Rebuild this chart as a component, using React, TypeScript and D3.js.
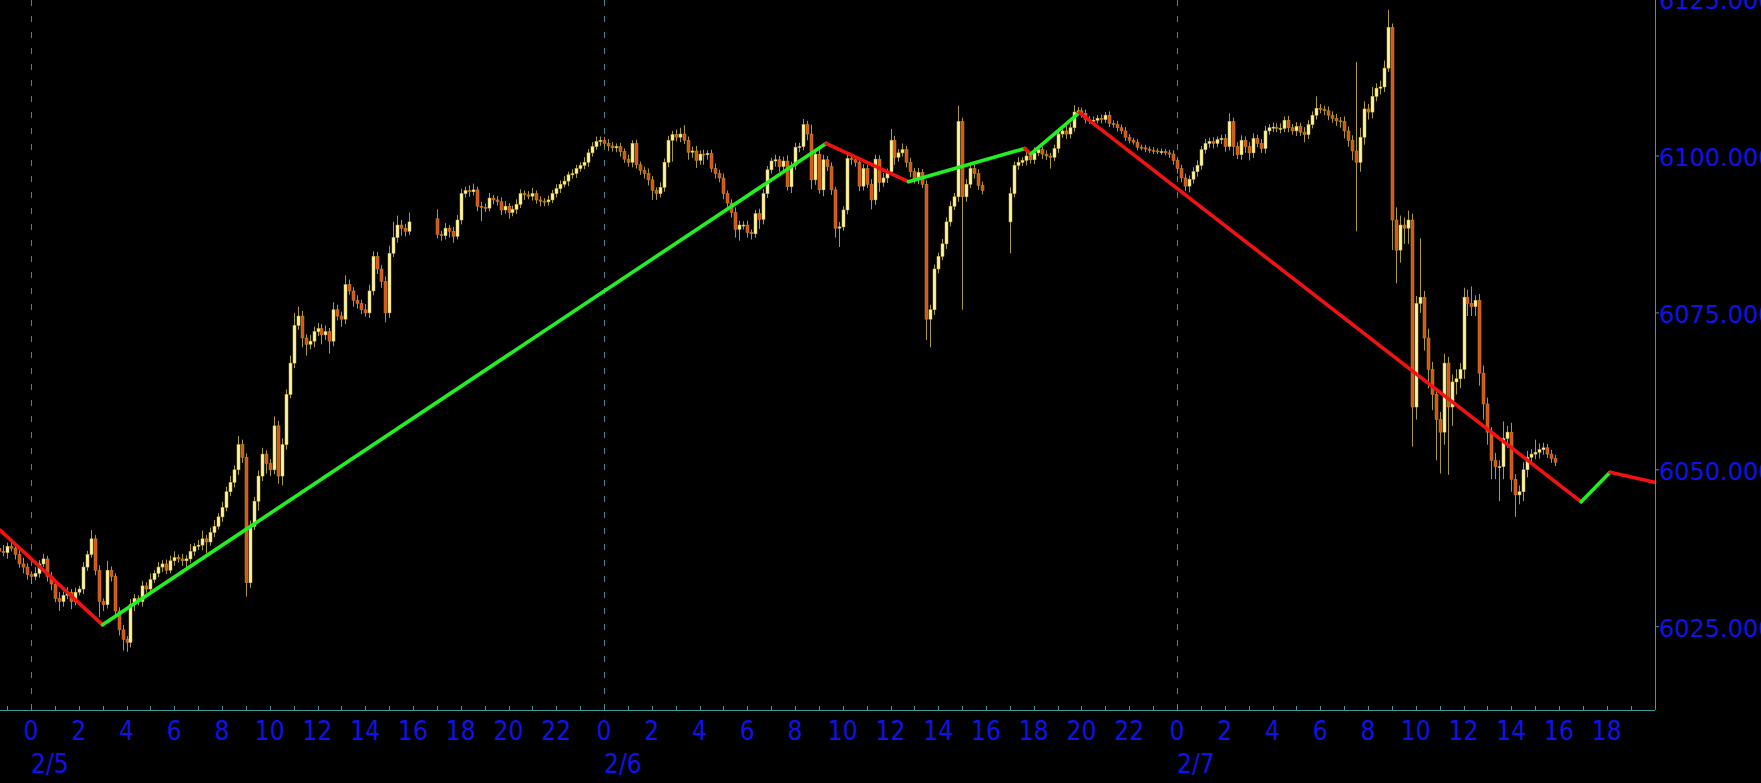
import React, { useEffect } from "react";
import * as d3 from "d3";

// ---------- data (time in hours from 2/5 00:00) ----------
const sessionStarts = [-4 / 3, 17, 41];
const sessionOpens = [6037.5, 6090, 6089.5];

const s1Close = [
  6037, 6036.8, 6037.8, 6037.5, 6036.5, 6035, 6034.5, 6033.3, 6033, 6033.5,
  6035, 6035.8, 6033, 6031.8, 6029.5, 6029, 6030, 6030.5, 6029, 6030.5,
  6031, 6034.5, 6036.5, 6039, 6034, 6029, 6028.5, 6034, 6033, 6027.5,
  6024.5, 6023, 6022.5, 6028.5, 6029.5, 6029, 6031.5, 6031, 6032.5, 6033.5,
  6034.5, 6035, 6034, 6035.5, 6036, 6035.8, 6035.5, 6035.8, 6037, 6037.8,
  6038, 6039, 6038.5, 6040, 6041, 6042.5, 6044, 6046.5, 6048, 6050,
  6054, 6052, 6032, 6041, 6045, 6049, 6052.5, 6051, 6050, 6057,
  6049, 6054, 6062, 6067, 6073, 6074.5, 6071, 6070, 6070.5, 6072,
  6072.5, 6071.5, 6072, 6070.5, 6075.5, 6074.5, 6074, 6079.5, 6078.5, 6077,
  6076.5, 6075.5, 6075, 6078.5, 6084, 6082, 6080, 6075, 6084.5, 6087,
  6089, 6088.5, 6088, 6089.5,
];
const s1WickUp = [
  0.8, 1, 0.6, 0.8, 0.5, 0.8, 1, 0.6, 0.5, 1,
  0.6, 0.8, 0.5, 0.7, 0.5, 1, 0.6, 0.8, 0.5, 0.7,
  0.5, 0.8, 0.6, 1.4, 0.6, 0.8, 0.5, 1.5, 0.6, 0.5,
  0.6, 0.8, 0.5, 0.9, 0.7, 0.5, 0.8, 0.6, 1, 0.5,
  0.8, 0.6, 0.7, 0.8, 1, 0.5, 0.8, 0.6, 1.2, 0.5,
  0.8, 1.3, 0.6, 0.8, 1, 0.6, 0.9, 0.8, 1, 0.7,
  1.4, 0.8, 0.6, 0.9, 0.7, 0.9, 1, 0.6, 0.7, 1.5,
  0.8, 1, 0.8, 1.2, 2, 1.5, 0.8, 0.6, 1, 0.8,
  0.9, 0.7, 1, 0.6, 1.2, 0.8, 0.7, 1.5, 0.8, 0.6,
  0.8, 0.6, 0.9, 1, 0.8, 0.7, 0.6, 0.8, 1.2, 2.5,
  1.5, 0.8, 0.7, 1.5,
];
const s1WickDn = [
  0.8, 0.6, 1, 0.5, 0.8, 0.6, 1, 0.8, 1.2, 0.6,
  0.7, 0.5, 0.8, 1, 0.6, 1.5, 0.8, 0.6, 1.2, 0.6,
  0.5, 0.8, 0.6, 0.5, 0.8, 2.5, 1, 0.6, 0.8, 1,
  0.9, 1.8, 1.5, 0.8, 1, 0.6, 0.8, 0.6, 0.7, 0.5,
  0.6, 0.8, 0.6, 0.5, 0.8, 0.6, 0.8, 1.5, 0.6, 0.7,
  0.6, 0.8, 1.8, 0.6, 0.7, 0.5, 0.8, 0.6, 0.7, 0.8,
  0.8, 0.9, 2.2, 0.8, 0.6, 1.5, 0.8, 1.6, 1, 0.7,
  1.2, 1.5, 0.8, 0.6, 0.8, 0.7, 1.5, 1.8, 0.8, 1,
  0.7, 1.5, 0.8, 2, 0.8, 0.7, 1.2, 0.8, 0.6, 1,
  0.8, 0.7, 0.6, 0.8, 0.7, 0.8, 1, 1.5, 0.8, 0.6,
  0.8, 1.2, 0.8, 0.6,
];

const s2Close = [
  6087.5, 6087.3, 6088.5, 6088, 6087.2, 6089.8, 6094, 6094.5, 6094.3, 6094.6,
  6092, 6091.8, 6091.7, 6093.3, 6093, 6092.7, 6091.4, 6092, 6091, 6091.5,
  6092.3, 6094, 6093.8, 6093.6, 6094, 6093, 6092.8, 6092.7, 6093, 6094,
  6094.8, 6095.5, 6096, 6097, 6097.2, 6098, 6098.5, 6099, 6100.5, 6101.5,
  6102.3, 6102.5, 6102, 6101.6, 6101.3, 6101.5, 6100.7, 6099.5, 6099, 6102,
  6098.6, 6097.7, 6097.2, 6096.2, 6094.5, 6094, 6095, 6099, 6102.5, 6103.4,
  6103, 6103.5, 6102.5, 6100.6, 6100.8, 6099.3, 6100.3, 6100.2, 6100.4, 6098,
  6097.2, 6096.5, 6094, 6092.5, 6091, 6088.3, 6089, 6089, 6087.8, 6087.6,
  6090.8, 6089.9, 6094, 6097.8, 6099.2, 6099.4, 6098.3, 6099.2, 6095.1, 6098.5,
  6101.4, 6101.5, 6105, 6103.5, 6096.2, 6100.3, 6094.6, 6099.4, 6098.3, 6094.6,
  6088.5, 6088.7, 6091.4, 6099.6, 6099.4, 6099, 6095.2, 6098, 6095.5, 6093,
  6099.5, 6095.8, 6096.5, 6097.5, 6102.5, 6099.8, 6100.5, 6101, 6099, 6097.5,
  6096.3, 6097.4, 6095.5, 6074, 6075.5, 6082, 6084, 6086, 6089.5, 6092,
  6093.5, 6105.5, 6093.5, 6095.5, 6098, 6097.2, 6095.3, 6094.5,
];
const s2WickUp = [
  1.5, 0.6, 0.8, 0.5, 0.7, 0.8, 0.8, 0.6, 0.8, 1,
  0.5, 0.7, 0.6, 0.8, 0.5, 0.6, 0.7, 0.8, 0.5, 0.6,
  0.8, 0.7, 0.5, 0.6, 0.9, 0.5, 0.6, 0.5, 0.7, 0.6,
  0.7, 0.6, 0.8, 0.5, 0.7, 0.6, 0.5, 0.8, 0.6, 0.7,
  0.8, 0.6, 0.5, 0.7, 0.6, 0.5, 0.6, 0.5, 0.7, 0.5,
  0.6, 0.5, 0.6, 0.8, 0.6, 0.5, 0.8, 0.6, 0.7, 0.6,
  0.8, 1, 1.4, 0.6, 0.7, 0.8, 0.6, 0.7, 0.5, 0.6,
  0.8, 0.6, 0.7, 0.5, 0.6, 0.8, 0.7, 0.6, 0.7, 0.5,
  0.6, 0.8, 0.7, 0.6, 0.5, 0.8, 0.6, 0.7, 0.9, 0.6,
  0.7, 0.6, 0.9, 0.6, 1.5, 0.6, 1.2, 0.8, 0.6, 0.7,
  0.5, 0.8, 0.6, 0.9, 0.7, 0.6, 0.8, 0.7, 0.6, 0.8,
  0.7, 0.6, 0.8, 0.5, 1.8, 0.7, 0.6, 1, 0.6, 0.7,
  0.6, 0.7, 0.5, 0.6, 0.8, 0.7, 0.6, 0.8, 0.7, 0.8,
  0.6, 2.5, 0.6, 0.8, 0.7, 0.6, 0.7, 0.6,
];
const s2WickDn = [
  0.6, 0.8, 0.6, 1, 1, 0.5, 0.7, 0.6, 0.8, 0.6,
  0.8, 2.2, 0.6, 0.5, 0.7, 0.6, 0.8, 0.6, 1, 0.6,
  0.7, 0.6, 0.8, 0.5, 0.7, 0.6, 0.8, 0.7, 0.6, 0.5,
  0.6, 0.7, 0.5, 0.8, 0.6, 0.7, 0.5, 0.6, 0.7, 0.6,
  0.5, 0.7, 0.6, 0.8, 0.6, 0.7, 0.8, 0.6, 0.7, 0.8,
  0.6, 0.7, 0.8, 0.9, 1.5, 1, 0.6, 0.7, 0.8, 3.4,
  0.7, 0.8, 0.6, 1.2, 0.9, 1.2, 0.7, 1.6, 0.8, 0.6,
  0.8, 0.7, 0.9, 0.6, 0.8, 1.3, 1.8, 0.7, 0.8, 0.9,
  0.6, 1.5, 0.8, 0.7, 0.6, 0.9, 0.8, 0.7, 0.6, 1,
  0.7, 0.8, 0.6, 1, 1.5, 0.8, 0.6, 1, 0.7, 0.8,
  1.5, 3, 0.6, 0.7, 0.8, 0.7, 0.8, 0.7, 0.6, 1.5,
  0.8, 1.5, 0.7, 0.8, 0.6, 1.2, 0.7, 0.6, 0.8, 0.9,
  0.7, 0.8, 0.6, 3.3, 4.5, 0.8, 0.7, 0.6, 0.8, 0.7,
  0.6, 0.8, 18, 0.8, 0.6, 0.8, 0.7, 0.6,
];

const s3Close = [
  6094, 6098.5, 6099, 6099.3, 6100, 6099.4, 6100.5, 6101, 6100.3, 6100,
  6099.8, 6101.2, 6103.5, 6104, 6103.5, 6104.5, 6107, 6107.2, 6106.8, 6105.8,
  6105.6, 6105.7, 6106, 6105.8, 6106.5, 6105.2, 6105, 6104.5, 6104, 6103,
  6102.5, 6102.2, 6101.4, 6101.3, 6101.1, 6100.9, 6100.8, 6100.7, 6100.7, 6100.5,
  6100.3, 6099.3, 6098, 6096.5, 6095.2, 6096.3, 6097.5, 6098.5, 6101, 6102,
  6102.3, 6102, 6102.6, 6102.8, 6101.5, 6105.5, 6101.5, 6100.2, 6102.5, 6101.5,
  6100.5, 6102.8, 6102, 6101.2, 6104, 6104.5, 6104.6, 6104.4, 6104.4, 6105.7,
  6104.5, 6104, 6104.7, 6103.8, 6103.4, 6105, 6106.5, 6107.6, 6107.4, 6107.2,
  6106.5, 6106, 6105.6, 6105.5, 6104, 6102.5, 6100.8, 6099, 6103, 6107.5,
  6107, 6109.5, 6110.8, 6111, 6114, 6120.5, 6089.8, 6085, 6089, 6088.5,
  6089.8, 6060, 6076.5, 6077.5, 6071, 6066, 6062, 6058, 6056, 6067,
  6060, 6064, 6064.5, 6066, 6077.5, 6076.5, 6076, 6077, 6065.4, 6060.5,
  6056, 6051.5, 6050.5, 6050.5, 6055, 6056, 6048.5, 6046, 6046.5, 6050,
  6052, 6052.5, 6052.8, 6053.2, 6053.5, 6052.5, 6051.8, 6051.2,
];
const s3WickUp = [
  1, 0.6, 0.8, 0.5, 0.7, 0.6, 0.9, 0.6, 0.5, 0.6,
  0.5, 0.6, 0.7, 0.6, 0.8, 0.7, 1.1, 0.6, 0.5, 0.6,
  0.5, 0.6, 0.5, 0.6, 0.5, 0.6, 0.5, 0.6, 0.5, 0.6,
  0.5, 0.4, 0.5, 0.4, 0.5, 0.4, 0.5, 0.4, 0.5, 0.4,
  0.5, 0.6, 0.5, 0.6, 0.7, 0.6, 0.7, 0.8, 0.6, 0.7,
  0.6, 0.7, 0.5, 0.6, 0.7, 1.3, 0.6, 0.7, 0.8, 0.6,
  0.7, 0.8, 0.6, 0.7, 0.8, 0.6, 0.7, 0.6, 0.8, 0.6,
  0.7, 0.6, 0.7, 0.6, 0.8, 0.7, 0.6, 1.9, 0.7, 0.6,
  0.7, 0.6, 0.7, 0.6, 0.8, 0.7, 0.8, 14.2, 1.5, 1.2,
  0.8, 1.5, 0.8, 1, 1.2, 2.8, 0.6, 2, 1.5, 1.2,
  1.5, 1, 1.2, 9.4, 1, 1.5, 1.2, 1, 1.2, 1.5,
  1, 1.2, 1.5, 1, 1.5, 1.2, 2.7, 0.8, 1, 1.2,
  1, 0.8, 1.2, 1, 2.7, 1, 1.5, 0.8, 1, 1.2,
  1, 0.8, 2, 1, 0.8, 0.6, 0.7, 0.6,
];
const s3WickDn = [
  5, 0.6, 0.7, 0.6, 0.8, 0.6, 0.7, 0.5, 0.8, 0.6,
  1.8, 0.6, 0.7, 0.6, 0.8, 0.7, 0.6, 0.5, 0.7, 0.6,
  0.5, 0.6, 0.5, 0.6, 0.5, 0.6, 0.5, 0.6, 0.5, 0.6,
  0.5, 0.4, 0.5, 0.4, 0.5, 0.4, 0.5, 0.4, 0.5, 0.4,
  0.6, 0.7, 0.8, 0.7, 0.8, 1, 0.7, 0.8, 0.7, 0.6,
  0.7, 0.8, 0.6, 0.7, 0.8, 0.6, 1.5, 0.7, 0.8, 1,
  1.2, 0.8, 0.6, 0.7, 0.8, 0.6, 0.7, 0.6, 0.8, 0.6,
  0.7, 0.6, 0.8, 0.6, 1.2, 0.7, 0.6, 0.7, 0.6, 0.7,
  0.8, 0.7, 0.8, 1, 1.2, 1, 1.5, 11, 1.5, 1.2,
  1.2, 1, 0.8, 1, 0.8, 0.6, 4.8, 5.3, 2, 2.5,
  2.5, 6.3, 2, 1.5, 2, 3, 2.5, 6.5, 6.6, 2,
  10.8, 3, 2, 1.5, 1.5, 2, 1.5, 1.5, 2, 2.5,
  2, 3, 2, 5.5, 2, 1.5, 2, 3.5, 1.5, 1.5,
  1.2, 1, 0.8, 1, 0.8, 0.6, 0.7, 0.6,
];

// zigzag pivots
const zigTime = [-1.3, 3.0, 33.3, 36.75, 41.63, 41.87, 43.91, 64.93, 66.14, 68];
const zigPrice = [6040.4, 6025.3, 6102, 6095.9, 6101.2, 6100.3, 6106.9, 6044.9, 6049.6, 6048];

// axis labels
const priceTicks = [6025, 6050, 6075, 6100, 6125];
const hourTicks = d3.range(0, 67, 2);
const dayStarts = [0, 24, 48];
const dayLabels = ["2/5", "2/6", "2/7"];

// ---------- layout ----------
const W = 1761;
const H = 783;
const plotRight = 1655;
const plotBottom = 710;

const x = d3.scaleLinear().domain([0, 48]).range([31, 31 + 48 * 23.875]);
const y = d3.scaleLinear().domain([6025, 6100]).range([626.7, 156]);

const AXIS = "#3c9a9a";
const GRID = "#338c8c";
const BLUE = "#1212e6";

type Candle = { t: number; o: number; h: number; l: number; c: number };

function buildCandles(): Candle[] {
  const closes = [s1Close, s2Close, s3Close];
  const ups = [s1WickUp, s2WickUp, s3WickUp];
  const dns = [s1WickDn, s2WickDn, s3WickDn];
  const out: Candle[] = [];
  closes.forEach((cl, s) => {
    let prev = sessionOpens[s];
    cl.forEach((c, i) => {
      const o = prev;
      const h = Math.max(o, c) + ups[s][i];
      const l = Math.min(o, c) - dns[s][i];
      out.push({ t: sessionStarts[s] + i / 6, o, h, l, c });
      prev = c;
    });
  });
  return out;
}

export default function App() {
  useEffect(() => {
    document.body.style.margin = "0";
    document.body.style.background = "#000";
    document.body.style.overflow = "hidden";
  }, []);

  const candles = buildCandles();
  const zz = zigTime.map((t, i) => ({ t, p: zigPrice[i] }));
  const line = d3
    .line<{ t: number; p: number }>()
    .x((d) => x(d.t))
    .y((d) => y(d.p));

  const narrow = "'DejaVu Sans Condensed','DejaVu Sans',sans-serif";

  return (
    <svg
      width={W}
      height={H}
      style={{ position: "absolute", left: 0, top: 0, background: "#000", display: "block" }}
    >
      <rect x={0} y={0} width={W} height={H} fill="#000" />
      <defs>
        <clipPath id="plot">
          <rect x={0} y={0} width={plotRight} height={plotBottom} />
        </clipPath>
      </defs>

      {/* day separators */}
      {dayStarts.map((d) => (
        <line
          key={"g" + d}
          x1={Math.round(x(d)) + 0.5}
          x2={Math.round(x(d)) + 0.5}
          y1={0}
          y2={plotBottom}
          stroke={GRID}
          strokeWidth={1}
          strokeDasharray="6,10"
        />
      ))}

      <g clipPath="url(#plot)">
        {candles.map((k, i) => {
          const cx = Math.round(x(k.t)) + 0.5;
          const bull = k.c >= k.o;
          const top = y(Math.max(k.o, k.c));
          const bot = y(Math.min(k.o, k.c));
          return (
            <g key={"c" + i}>
              <line x1={cx} x2={cx} y1={y(k.h)} y2={y(k.l)} stroke="#a89a36" strokeWidth={1} />
              <rect
                x={cx - 1.5}
                y={top}
                width={3}
                height={Math.max(1, bot - top)}
                fill={bull ? "#fbf4a8" : "#d6541a"}
                stroke={bull ? "#cdb648" : "#c08a2c"}
                strokeWidth={0.5}
              />
            </g>
          );
        })}

        {zz.slice(1).map((d, i) => {
          const a = zz[i];
          const up = d.p > a.p;
          return (
            <path
              key={"z" + i}
              d={line([a, d]) || ""}
              stroke={up ? "#22f022" : "#f21212"}
              strokeWidth={3.6}
              strokeLinecap="round"
              fill="none"
            />
          );
        })}
      </g>

      {/* axes */}
      <line x1={0} x2={plotRight} y1={plotBottom + 0.5} y2={plotBottom + 0.5} stroke={AXIS} strokeWidth={1} />
      <line x1={plotRight + 0.5} x2={plotRight + 0.5} y1={0} y2={plotBottom} stroke={AXIS} strokeWidth={1} />

      {d3.range(-1, 68, 1).map((h) => (
        <line
          key={"mt" + h}
          x1={Math.round(x(h)) + 0.5}
          x2={Math.round(x(h)) + 0.5}
          y1={plotBottom - 4}
          y2={plotBottom}
          stroke={AXIS}
          strokeWidth={1}
        />
      ))}
      {hourTicks.map((h) => (
        <text
          key={"hl" + h}
          x={x(h)}
          y={731}
          fill={BLUE}
          fontSize={26}
          fontFamily={narrow}
          fontStretch="condensed"
          textAnchor="middle"
          dominantBaseline="central"
        >
          {String(h % 24)}
        </text>
      ))}
      {dayStarts.map((d, i) => (
        <text
          key={"dl" + d}
          x={x(d)}
          y={764}
          fill={BLUE}
          fontSize={26}
          fontFamily={narrow}
          fontStretch="condensed"
          textAnchor="start"
          dominantBaseline="central"
        >
          {dayLabels[i]}
        </text>
      ))}

      {priceTicks.map((p) => (
        <g key={"p" + p}>
          <line x1={plotRight} x2={plotRight + 4} y1={y(p)} y2={y(p)} stroke={AXIS} strokeWidth={1} />
          <text
            x={plotRight + 4}
            y={y(p) + 2}
            fill={BLUE}
            fontSize={24}
            fontFamily="'DejaVu Sans',sans-serif"
            dominantBaseline="central"
          >
            {p.toFixed(3)}
          </text>
        </g>
      ))}
    </svg>
  );
}
